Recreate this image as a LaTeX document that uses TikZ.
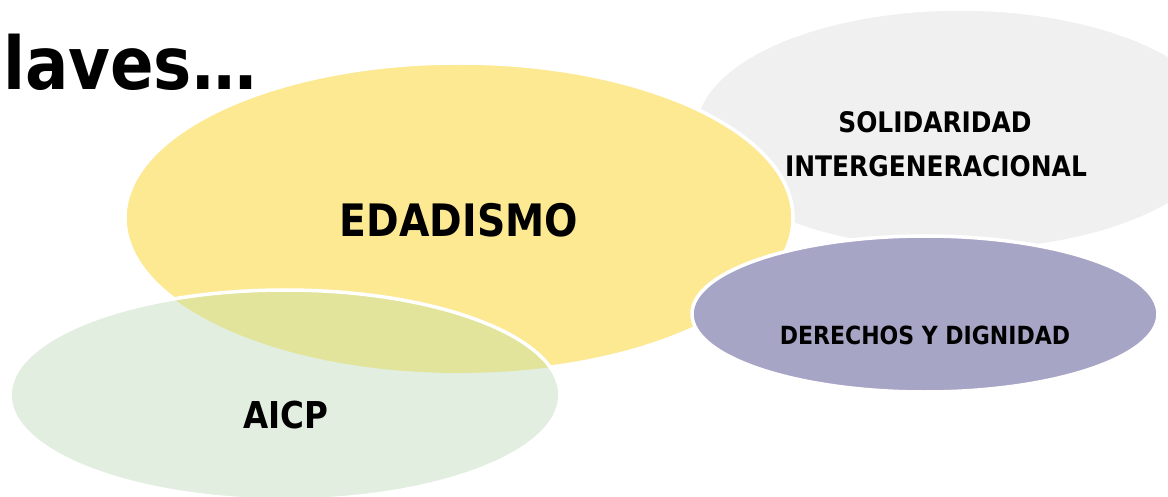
\documentclass[tikz,border=0pt]{standalone}
\usepackage{fontspec}
\setmainfont{DejaVu Sans}
\newfontfamily\labfont{DejaVu Sans}[FakeStretch=0.88]
\usetikzlibrary{shapes.geometric}
\definecolor{greyC}{HTML}{F0F0F0}
\definecolor{yellowC}{HTML}{FCE992}
\definecolor{greenC}{HTML}{E2EFE0}
\definecolor{overlapC}{HTML}{E1E49A}
\definecolor{purpleC}{HTML}{A7A5C5}
\begin{document}
\begin{tikzpicture}[x=1pt,y=-1pt,
  blob/.style={ellipse, draw=white, line width=3.5pt, inner sep=0pt, outer sep=0pt},
  lbl/.style={font=\labfont\bfseries, text=black, inner sep=0pt, outer sep=0pt}]
\useasboundingbox (0,0) rectangle (1168,497);
% ellipses
\node[blob, fill=greyC, minimum width=530pt, minimum height=242pt] (grey) at (960,130) {};
\node[blob, fill=yellowC, minimum width=668pt, minimum height=310pt] (yellow) at (459,218) {};
\node[blob, draw=none, fill=greenC, minimum width=550pt, minimum height=210pt] (green) at (285,395) {};
\begin{scope}
  \clip (yellow.center) ellipse [x radius=334pt, y radius=155pt];
  \fill[overlapC] (green.center) ellipse [x radius=275pt, y radius=105pt];
\end{scope}
\draw[white, line width=3.5pt] (green.center) ellipse [x radius=275pt, y radius=105pt];
\node[blob, fill=purpleC, minimum width=466pt, minimum height=156pt] (purple) at (925,314) {};
% labels
\node[lbl, anchor=base west, font=\labfont\bfseries\fontsize{73}{80}\selectfont] (title) at (3,90) {laves…};
\node[lbl, font=\labfont\bfseries\fontsize{44.7}{50}\selectfont] (edad) at (459,220) {EDADISMO};
\node[lbl, font=\labfont\bfseries\fontsize{28.3}{32}\selectfont] (sol) at (935,122) {SOLIDARIDAD};
\node[lbl, font=\labfont\bfseries\fontsize{28.3}{32}\selectfont] (inter) at (936,166) {INTERGENERACIONAL};
\node[lbl, font=\labfont\bfseries\fontsize{25}{30}\selectfont] (der) at (925,335) {DERECHOS Y DIGNIDAD};
\node[lbl, font=\labfont\bfseries\fontsize{37}{42}\selectfont] (aicp) at (286,415) {AICP};
\end{tikzpicture}
\end{document}
